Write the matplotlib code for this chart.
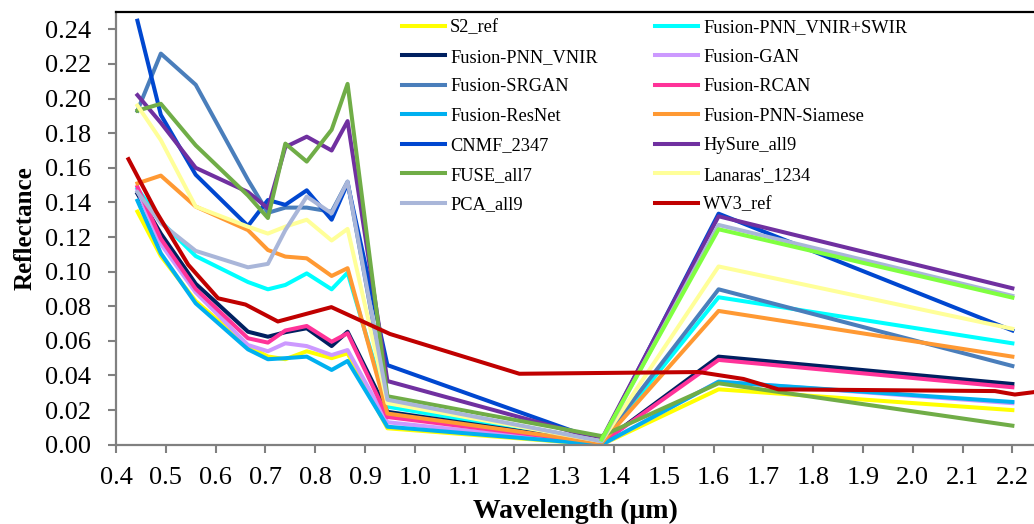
import numpy as np
import matplotlib
matplotlib.use("Agg")
import matplotlib.pyplot as plt
from matplotlib.ticker import MultipleLocator, FormatStrFormatter

# band centres (um)
s2_wl = [0.443, 0.490, 0.560, 0.665, 0.705, 0.740, 0.783, 0.833, 0.865, 0.945, 1.375, 1.610, 2.200]
wv3_wl = [0.425, 0.480, 0.545, 0.605, 0.660, 0.725, 0.8325, 0.950, 1.210, 1.570, 1.660, 1.730,
          2.165, 2.205, 2.260, 2.330]
extra_wl = [1.375, 1.610, 2.200]

# reflectance
s2_ref = [0.1347, 0.109, 0.083, 0.057, 0.051, 0.0494, 0.054, 0.050, 0.0528, 0.0095, 0.000, 0.032, 0.020]
pnn_vnir_swir = [0.148, 0.129, 0.109, 0.094, 0.0898, 0.0923, 0.099, 0.0898, 0.0994, 0.022, 0.001, 0.0852, 0.0586]
pnn_vnir = [0.145, 0.122, 0.093, 0.0653, 0.0624, 0.065, 0.0673, 0.057, 0.0653, 0.019, 0.001, 0.0509, 0.0351]
gan = [0.147, 0.116, 0.088, 0.0576, 0.054, 0.0586, 0.057, 0.0518, 0.0547, 0.013, 0.000, 0.0365, 0.024]
srgan = [0.193, 0.226, 0.208, 0.153, 0.134, 0.137, 0.137, 0.1346, 0.152, 0.025, 0.002, 0.0898, 0.0455]
rcan = [0.149, 0.119, 0.090, 0.0615, 0.059, 0.066, 0.0686, 0.0595, 0.0644, 0.016, 0.001, 0.049, 0.0332]
resnet = [0.141, 0.1106, 0.0817, 0.0551, 0.0494, 0.050, 0.0509, 0.0432, 0.0484, 0.0104, 0.000, 0.0364, 0.0247]
siamese = [0.151, 0.1555, 0.1376, 0.124, 0.1125, 0.1087, 0.1077, 0.0975, 0.102, 0.018, 0.001, 0.0773, 0.0509]
cnmf = [0.245, 0.1906, 0.156, 0.1264, 0.1414, 0.1386, 0.147, 0.130, 0.151, 0.046, 0.002, 0.1335, 0.066]
hysure = [0.202, 0.186, 0.160, 0.146, 0.1366, 0.172, 0.178, 0.170, 0.187, 0.0368, 0.003, 0.132, 0.0904]
fuse = [0.193, 0.197, 0.173, 0.144, 0.131, 0.174, 0.1636, 0.182, 0.2085, 0.028, 0.005, 0.0355, 0.011]
lanaras = [0.196, 0.176, 0.1376, 0.126, 0.122, 0.126, 0.130, 0.118, 0.1247, 0.024, 0.002, 0.103, 0.067]
pca = [0.146, 0.128, 0.112, 0.1025, 0.1045, 0.124, 0.1434, 0.1337, 0.152, 0.026, 0.002, 0.127, 0.086]
extra = [0.003, 0.1245, 0.085]
wv3_ref = [0.165, 0.135, 0.104, 0.0846, 0.081, 0.0712, 0.0795, 0.064, 0.041, 0.042, 0.038, 0.032,
           0.031, 0.029, 0.031, 0.030]

series = [
    ("S2_ref", s2_ref, "#FFFF00"),
    ("Fusion-PNN_VNIR+SWIR", pnn_vnir_swir, "#00FFFF"),
    ("Fusion-PNN_VNIR", pnn_vnir, "#002060"),
    ("Fusion-GAN", gan, "#CC99FF"),
    ("Fusion-SRGAN", srgan, "#4A7EBB"),
    ("Fusion-RCAN", rcan, "#FF3399"),
    ("Fusion-ResNet", resnet, "#00B0F0"),
    ("Fusion-PNN-Siamese", siamese, "#FF9933"),
    ("CNMF_2347", cnmf, "#0047D0"),
    ("HySure_all9", hysure, "#7030A0"),
    ("FUSE_all7", fuse, "#70AD47"),
    ("Lanaras'_1234", lanaras, "#FFFF99"),
    ("PCA_all9", pca, "#A9B6D9"),
]

plt.rcParams["font.family"] = ["Liberation Serif", "DejaVu Serif"]

fig = plt.figure(figsize=(10.34, 5.24), dpi=100)
ax = fig.add_axes([0.1122, 0.1513, 0.8878, 0.8257])

lw = 2.9
handles = []
for name, vals, col in series:
    h, = ax.plot(s2_wl, vals, color=col, lw=lw, label=name)
    handles.append(h)
ax.plot(extra_wl, extra, color="#80FF40", lw=lw)
h, = ax.plot(wv3_wl, wv3_ref, color="#C00000", lw=lw, label="WV3_ref")
handles.append(h)

ax.set_xlim(0.4, 2.2434)
ax.set_ylim(0, 0.25)
ax.xaxis.set_major_locator(MultipleLocator(0.1))
ax.xaxis.set_major_formatter(FormatStrFormatter("%.1f"))
ax.set_yticks(np.arange(0, 0.241, 0.02))
ax.yaxis.set_major_formatter(FormatStrFormatter("%.2f"))
ax.tick_params(axis="both", labelsize=19, color="#808080", width=1.5, length=6)
ax.tick_params(axis="x", pad=10)
ax.tick_params(axis="y", pad=12)

for s in ["left", "bottom"]:
    ax.spines[s].set_color("#808080")
    ax.spines[s].set_linewidth(1.6)
ax.spines["right"].set_visible(False)
ax.spines["top"].set_color("black")
ax.spines["top"].set_linewidth(1.6)

ax.set_xlabel("Wavelength (μm)", fontsize=20, fontweight="bold", labelpad=7)
ax.set_ylabel("Reflectance", fontsize=18, fontweight="bold", labelpad=6)

order = handles[0::2] + handles[1::2]
ax.legend(order, [h.get_label() for h in order], ncol=2, frameon=False, fontsize=13.2,
          loc="upper left", bbox_to_anchor=(0.311, 0.983), borderpad=0, borderaxespad=0,
          handlelength=2.35, labelspacing=0.68, columnspacing=3.1, handletextpad=0.3)

fig.savefig("out.png", dpi=100)
